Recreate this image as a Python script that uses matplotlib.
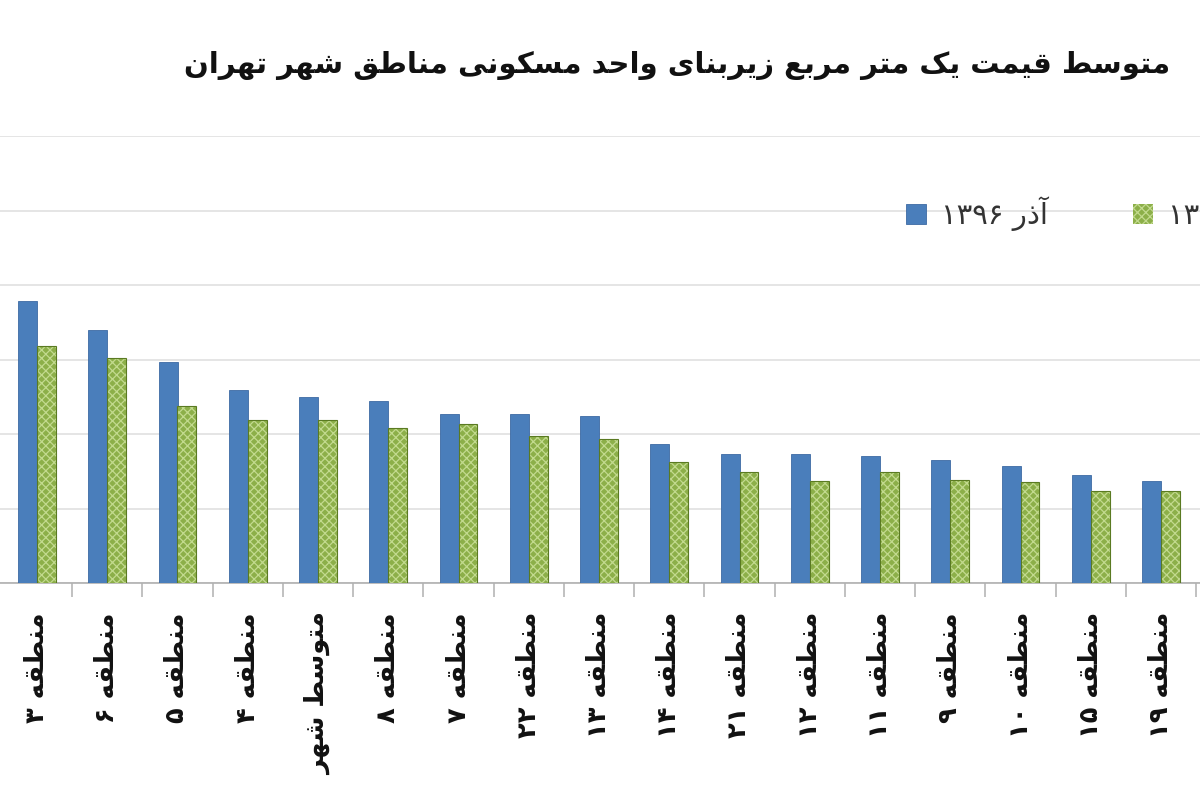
"""
Average price per square metre of residential floor area, Tehran districts
(Azar 1396 vs Azar 1395).  Cropped view, as in the source image.
"""

import re

import matplotlib
matplotlib.use("Agg")
import matplotlib.pyplot as plt
import numpy as np

# -- data (thousand tomans per m2) --

DISTRICTS = [
    "منطقه ۳", "منطقه ۶", "منطقه ۵", "منطقه ۴", "متوسط شهر", "منطقه ۸",
    "منطقه ۷", "منطقه ۲۲", "منطقه ۱۳", "منطقه ۱۴", "منطقه ۲۱", "منطقه ۱۲",
    "منطقه ۱۱", "منطقه ۹", "منطقه ۱۰", "منطقه ۱۵", "منطقه ۱۹",
]
AZAR_1396 = [7580, 6790, 5940, 5180, 5000, 4890, 4540, 4540, 4480,
             3730, 3460, 3460, 3410, 3300, 3150, 2900, 2740]
AZAR_1395 = [6370, 6040, 4750, 4380, 4380, 4160, 4270, 3950, 3870,
             3260, 2980, 2750, 2980, 2770, 2720, 2480, 2480]

SERIES_LABELS = ["آذر ۱۳۹۶", "آذر ۱۳۹۵"]
TITLE = "متوسط قیمت یک متر مربع زیربنای واحد مسکونی مناطق شهر تهران"

BLUE = "#4a7ebb"
BLUE_EDGE = "#3d6aa3"
GREEN = "#8caf49"
GREEN_EDGE = "#5a7a22"
GREEN_HATCH = "#c2da8e"

# -- minimal Persian shaping (matplotlib has no complex text layout) --

# isolated, final, initial, medial
FORMS = {
    "ا": (0xFE8D, 0xFE8E, None, None),
    "آ": (0xFE81, 0xFE82, None, None),
    "ب": (0xFE8F, 0xFE90, 0xFE91, 0xFE92),
    "ت": (0xFE95, 0xFE96, 0xFE97, 0xFE98),
    "ح": (0xFEA1, 0xFEA2, 0xFEA3, 0xFEA4),
    "د": (0xFEA9, 0xFEAA, None, None),
    "ذ": (0xFEAB, 0xFEAC, None, None),
    "ر": (0xFEAD, 0xFEAE, None, None),
    "ز": (0xFEAF, 0xFEB0, None, None),
    "س": (0xFEB1, 0xFEB2, 0xFEB3, 0xFEB4),
    "ش": (0xFEB5, 0xFEB6, 0xFEB7, 0xFEB8),
    "ط": (0xFEC1, 0xFEC2, 0xFEC3, 0xFEC4),
    "ع": (0xFEC9, 0xFECA, 0xFECB, 0xFECC),
    "ق": (0xFED5, 0xFED6, 0xFED7, 0xFED8),
    "ل": (0xFEDD, 0xFEDE, 0xFEDF, 0xFEE0),
    "م": (0xFEE1, 0xFEE2, 0xFEE3, 0xFEE4),
    "ن": (0xFEE5, 0xFEE6, 0xFEE7, 0xFEE8),
    "ه": (0xFEE9, 0xFEEA, 0xFEEB, 0xFEEC),
    "و": (0xFEED, 0xFEEE, None, None),
    "ک": (0xFB8E, 0xFB8F, 0xFB90, 0xFB91),
    "ی": (0xFBFC, 0xFBFD, 0xFBFE, 0xFBFF),
}


def fa(text):
    """Shape Persian letters and put the string in visual (LTR) order."""
    out = []
    for i, ch in enumerate(text):
        if ch not in FORMS:
            out.append(ch)
            continue
        iso, fin, ini, med = FORMS[ch]
        prev = text[i - 1] if i > 0 else ""
        nxt = text[i + 1] if i + 1 < len(text) else ""
        p = prev in FORMS and FORMS[prev][2] is not None
        n = nxt in FORMS and ini is not None
        if p and n:
            code = med
        elif p:
            code = fin
        elif n:
            code = ini
        else:
            code = iso
        out.append(chr(code))
    s = "".join(out)[::-1]
    return re.sub(r"[۰-۹0-9]+", lambda m: m.group(0)[::-1], s)


plt.rcParams["font.family"] = ["DejaVu Sans"]
plt.rcParams["hatch.linewidth"] = 0.9

W, H = 1200, 800
fig = plt.figure(figsize=(W / 100, H / 100), dpi=100)
fig.patch.set_facecolor("white")

# the source is a crop: axis starts off the left edge and runs past the right
ax = fig.add_axes([0, 1 - 583 / H, 1, (583 - 136) / H])

x = np.arange(len(DISTRICTS))
bw = 0.27
b1 = ax.bar(x - bw / 2, AZAR_1396, bw, color=BLUE, edgecolor=BLUE_EDGE,
            linewidth=0.6, zorder=3, label=fa(SERIES_LABELS[0]))
b2 = ax.bar(x + bw / 2, AZAR_1395, bw, color=GREEN, edgecolor=GREEN_HATCH,
            hatch="xxxx", linewidth=0, zorder=3, label=fa(SERIES_LABELS[1]))
ax.bar(x + bw / 2, AZAR_1395, bw, fill=False, edgecolor=GREEN_EDGE,
       linewidth=0.8, zorder=4)

spacing = 70.25  # px per category in the picture
x0 = -37 / spacing
ax.set_xlim(x0, x0 + W / spacing)
ax.set_ylim(0, 12000)
ax.set_yticks(np.arange(0, 12001, 2000))
ax.yaxis.grid(True, color="#e3e3e3", linewidth=1.3, zorder=0)
ax.set_axisbelow(True)

for side in ("left", "right", "top"):
    ax.spines[side].set_visible(False)
ax.spines["bottom"].set_color("#b0b0b0")
ax.spines["bottom"].set_linewidth(1.2)

ax.set_xticks(x)
ax.set_xticklabels([fa(d) for d in DISTRICTS], rotation=90, ha="center",
                   va="top", fontsize=18.5, fontweight="bold",
                   color="#111111")
ax.set_xticks(x + 0.5, minor=True)
ax.tick_params(axis="x", which="major", length=0, pad=21)
ax.tick_params(axis="x", which="minor", length=10, width=1.1,
               color="#b0b0b0", direction="out")
ax.tick_params(axis="y", left=False, labelleft=False)

fig.text(1170 / W, 1 - 65 / H, fa(TITLE), ha="right", va="center",
         fontsize=21, fontweight="bold", color="#111111")

# legend runs off the right edge in the source crop as well
leg = ax.legend(handles=[b1, b2], loc="center left", ncol=2,
                bbox_to_anchor=(906 / W, 1 - 214 / H),
                bbox_transform=fig.transFigure, frameon=False,
                fontsize=21, handlelength=0.7, handleheight=0.7,
                handletextpad=0.5, columnspacing=2.9, borderaxespad=0,
                borderpad=0)
for t in leg.get_texts():
    t.set_color("#333333")

fig.savefig("out.png", dpi=100, facecolor="white")
